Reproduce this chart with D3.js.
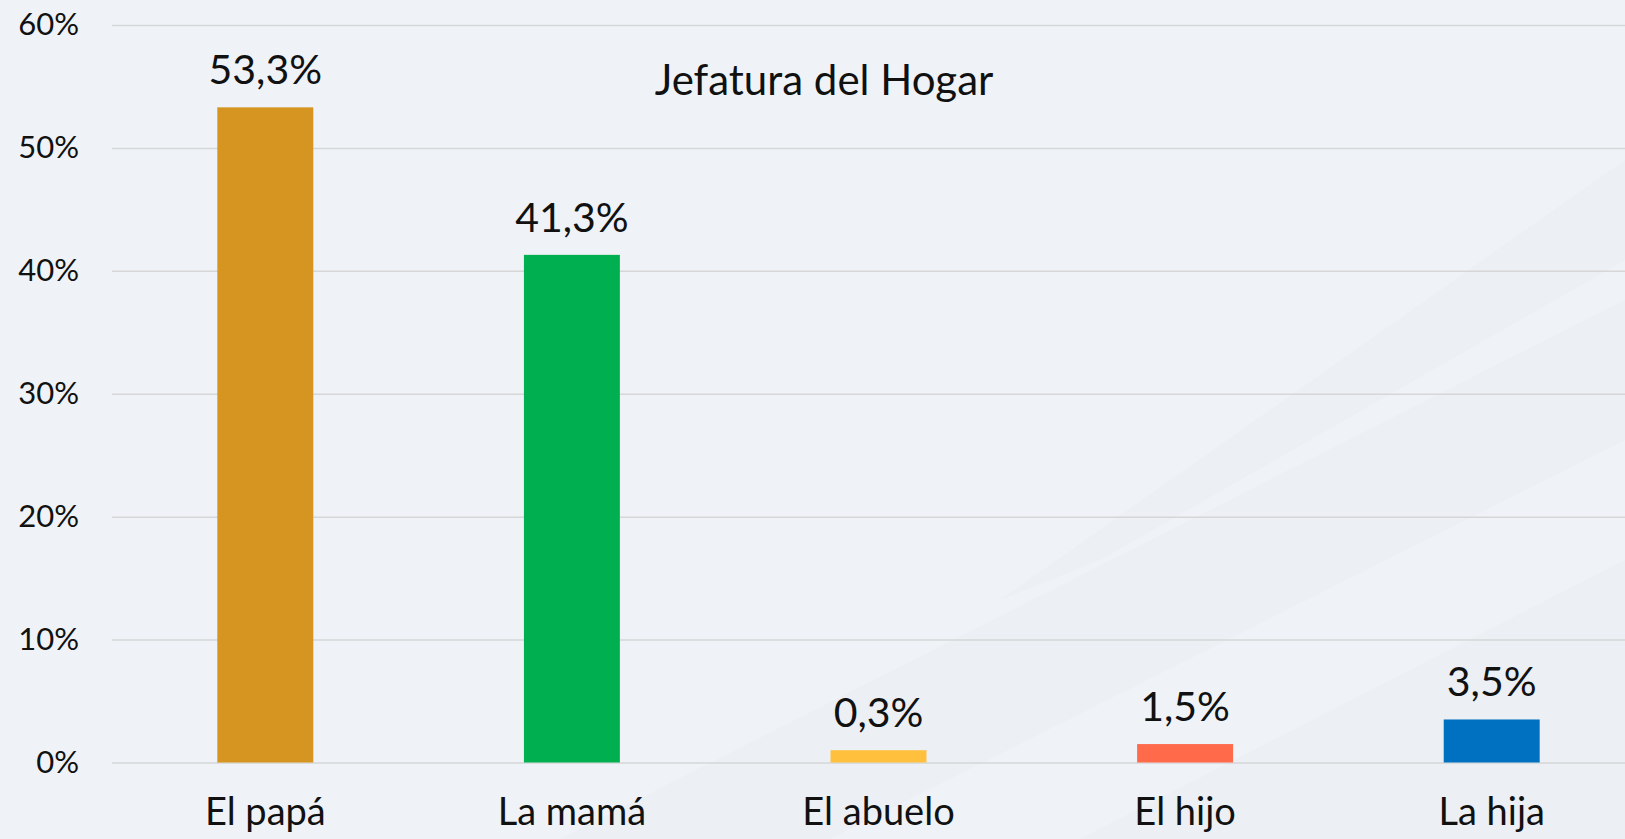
<!DOCTYPE html>
<html>
<head>
<meta charset="utf-8">
<script src="https://cdn.jsdelivr.net/npm/d3@7"></script>
<style>
  html, body { margin: 0; padding: 0; overflow: hidden; }
  body { width: 1625px; height: 839px; background: #eff3f7; }
  text { font-family: Lato, 'Noto Sans', sans-serif; font-weight: 400; fill: #111; }
</style>
</head>
<body>
<div id="chart"></div>
<script>
'use strict';

// chart data (bar heights, labels as printed)
const categories = ['El papá', 'La mamá', 'El abuelo', 'El hijo', 'La hija'];
const values = [0.533, 0.413, 0.010, 0.015, 0.035];
const valueLabels = ['53,3%', '41,3%', '0,3%', '1,5%', '3,5%'];
const barColors = ['#d59520', '#00b050', '#ffc03d', '#ff6a4b', '#0070c0'];
const yTicks = [0, 0.1, 0.2, 0.3, 0.4, 0.5, 0.6];
const title = 'Jefatura del Hogar';

const fullWidth = 1625;
const fullHeight = 839;

// plot area, the band range runs a bit past the right edge like the original
const plotLeft = 112;
const plotRight = 1645;
const plotTop = 25;
const plotBottom = 762.5;

const svg = d3.select('#chart')
  .append('svg')
    .attr('width', fullWidth)
    .attr('height', fullHeight);

// faint diagonal bands in the background
const bg = svg.append('g');
bg.append('rect')
  .attr('width', fullWidth)
  .attr('height', fullHeight)
  .attr('fill', '#eff3f7');
const bands = [
  [[560, 839], [1625, 300], [1625, 440], [830, 839]],
  [[1080, 839], [1625, 560], [1625, 839]],
  [[1000, 600], [1625, 160], [1625, 260], [1100, 560]]
];
bg.selectAll('polygon')
  .data(bands)
  .join('polygon')
    .attr('points', d => d.map(p => p.join(',')).join(' '))
    .attr('fill', '#e9edf2')
    .attr('opacity', 0.6);

// scales
const x = d3.scaleBand()
  .domain(categories)
  .range([plotLeft, plotRight])
  .paddingInner(0.687)
  .paddingOuter(0.3435);

const y = d3.scaleLinear()
  .domain([0, 0.6])
  .range([plotBottom, plotTop]);

// y axis with gridlines
const yAxis = svg.append('g')
  .attr('transform', `translate(${plotLeft},0)`)
  .call(d3.axisLeft(y)
    .tickValues(yTicks)
    .tickSize(-(fullWidth - plotLeft))
    .tickPadding(33)
    .tickFormat(d => Math.round(d * 100) + '%'));
yAxis.select('.domain').remove();
yAxis.selectAll('line')
  .attr('stroke', '#d6d6d6')
  .attr('stroke-width', 1.5);
yAxis.selectAll('text')
  .style('font-size', '31px')
  .attr('fill', '#111');

// x axis labels
const xAxis = svg.append('g')
  .attr('transform', `translate(0,${plotBottom})`)
  .call(d3.axisBottom(x).tickSize(0).tickPadding(36));
xAxis.select('.domain').remove();
xAxis.selectAll('text')
  .style('font-size', '38px')
  .attr('fill', '#111');

// bars
svg.selectAll('.bar')
  .data(values)
  .join('rect')
    .attr('class', 'bar')
    .attr('x', (d, i) => x(categories[i]))
    .attr('y', d => y(d))
    .attr('width', x.bandwidth())
    .attr('height', d => plotBottom - y(d))
    .attr('fill', (d, i) => barColors[i]);

// value labels above the bars
svg.selectAll('.value')
  .data(values)
  .join('text')
    .attr('class', 'value')
    .attr('x', (d, i) => x(categories[i]) + x.bandwidth() / 2)
    .attr('y', d => y(d) - 23)
    .attr('text-anchor', 'middle')
    .style('font-size', '41px')
    .text((d, i) => valueLabels[i]);

// title
svg.append('text')
  .attr('x', 824)
  .attr('y', 95)
  .attr('text-anchor', 'middle')
  .style('font-size', '42px')
  .text(title);
</script>
</body>
</html>
